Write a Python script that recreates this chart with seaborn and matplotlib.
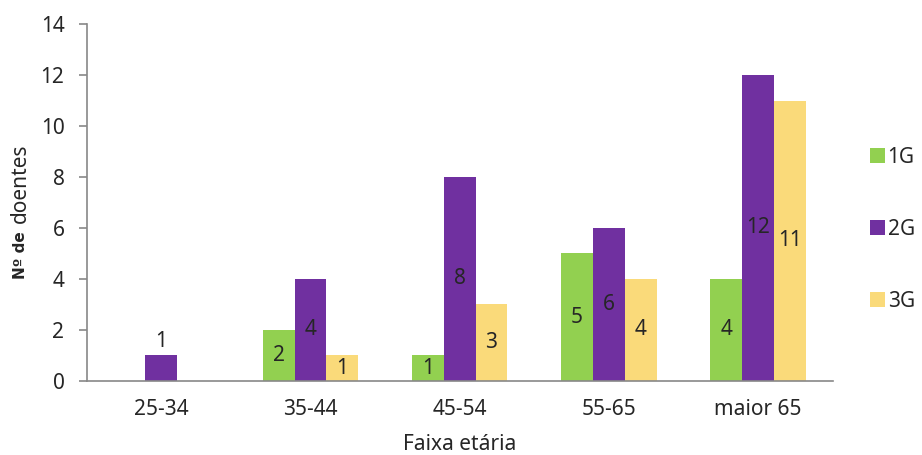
import matplotlib
matplotlib.use("Agg")
import matplotlib.pyplot as plt
import seaborn as sns
import pandas as pd

# Patients per age band and group
faixas = ["25-34", "35-44", "45-54", "55-65", "maior 65"]
grupos = ["1G", "2G", "3G"]
g1 = [0, 2, 1, 5, 4]
g2 = [1, 4, 8, 6, 12]
g3 = [0, 1, 3, 4, 11]
cores = ["#92D050", "#7030A0", "#FADA7A"]
rotulo_acima = ["25-34"]  # bands whose value label sits above the bar

df = pd.DataFrame({
    "Faixa": faixas * 3,
    "Grupo": [g for g in grupos for _ in faixas],
    "Doentes": g1 + g2 + g3,
})

sns.set_style("white")
plt.rcParams["font.family"] = ["Noto Sans", "DejaVu Sans"]

fig = plt.figure(figsize=(9.22, 4.55), dpi=100)
ax = fig.add_axes([0.094, 0.163, 0.809, 0.784])

sns.barplot(data=df, x="Faixa", y="Doentes", hue="Grupo", order=faixas,
            hue_order=grupos, palette=cores, width=0.64, gap=0,
            saturation=1, edgecolor="none", linewidth=0, ax=ax)

for cont, vals in zip(ax.containers, [g1, g2, g3]):
    for bar, v, f in zip(cont, vals, faixas):
        if v == 0:
            continue
        x = bar.get_x() + bar.get_width() / 2
        if f in rotulo_acima:
            ax.text(x, v + 0.15, str(v), ha="center", va="bottom", fontsize=15)
        else:
            ax.text(x, v / 2, str(v), ha="center", va="center", fontsize=15)

ax.set_ylim(0, 14)
ax.set_yticks(range(0, 15, 2))
ax.set_xlim(-0.5, len(faixas) - 0.5)
ax.set_xticks(range(len(faixas)))
ax.set_xticklabels(faixas)
ax.set_xticks([i - 0.5 for i in range(len(faixas) + 1)], minor=True)
ax.tick_params(axis="x", which="major", length=0, labelsize=15, pad=13)
ax.tick_params(axis="x", which="minor", length=6, color="#888888", width=1.2)
ax.tick_params(axis="y", which="major", length=6, color="#888888", width=1.2,
               labelsize=15, pad=10, left=True)

for s in ["top", "right"]:
    ax.spines[s].set_visible(False)
for s in ["left", "bottom"]:
    ax.spines[s].set_color("#888888")
    ax.spines[s].set_linewidth(1.2)

ax.set_xlabel("Faixa etária", fontsize=15, labelpad=10)
ax.set_ylabel("")

# y-axis title: bold "Nº de" followed by regular "doentes"
fig.text(0.022, 0.44, "Nº de", rotation=90, ha="center", va="center",
         fontsize=11, fontweight="bold", family="DejaVu Sans")
fig.text(0.022, 0.598, "doentes", rotation=90, ha="center", va="center",
         fontsize=15)

handles, labels = ax.get_legend_handles_labels()
ax.legend(handles, labels, loc="center left", bbox_to_anchor=(1.025, 0.425),
          frameon=False, fontsize=15, handlelength=0.7, handleheight=0.7,
          handletextpad=0.15, labelspacing=2.45)

fig.savefig("out.png", dpi=100)
